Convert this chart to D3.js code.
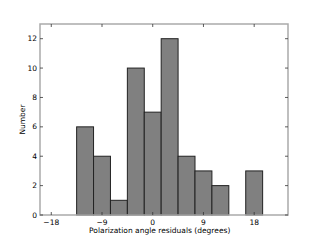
<!DOCTYPE html>
<html>
<head>
<meta charset="utf-8">
<script src="https://cdn.jsdelivr.net/npm/d3@7"></script>
<style>
  body { margin: 0; background: #fff; }
  svg { display: block; }
</style>
</head>
<body>
<script>
// histogram bins (left edge, degrees) and counts
const binStarts = [-13.5, -10.5, -7.5, -4.5, -1.5, 1.5, 4.5, 7.5, 10.5, 13.5, 16.5]
const counts = [6, 4, 1, 10, 7, 12, 4, 3, 2, 0, 3]
const binWidth = 3
const xTicks = [-18, -9, 0, 9, 18]
const yTicks = [0, 2, 4, 6, 8, 10, 12]

const width = 320, height = 240
const margin = { top: 24, right: 32, bottom: 25, left: 40 }
const innerW = width - margin.left - margin.right
const innerH = height - margin.top - margin.bottom

const svg = d3.select("body").append("svg")
    .attr("width", width)
    .attr("height", height)
    .style("font-family", "DejaVu Sans")

const g = svg.append("g")
    .attr("transform", `translate(${margin.left},${margin.top})`)

const x = d3.scaleLinear().domain([-20, 24]).range([0, innerW])
const y = d3.scaleLinear().domain([0, 13]).range([innerH, 0])

const data = binStarts.map((s, i) => ({ start: s, count: counts[i] }))

// bars
g.selectAll("rect.bar")
    .data(data.filter(d => d.count > 0))
    .enter()
    .append("rect")
    .attr("class", "bar")
    .attr("x", d => x(d.start))
    .attr("y", d => y(d.count))
    .attr("width", d => x(d.start + binWidth) - x(d.start))
    .attr("height", d => y(0) - y(d.count))
    .attr("fill", "#808080")
    .attr("stroke", "#222")
    .attr("stroke-width", 1)

// frame
g.append("rect")
    .attr("x", 0).attr("y", 0)
    .attr("width", innerW).attr("height", innerH)
    .attr("fill", "none")
    .attr("stroke", "#aaa")
    .attr("stroke-width", 1.5)

// ticks (inward, on all sides)
const tickLen = 3
xTicks.forEach(t => {
    g.append("line").attr("x1", x(t)).attr("x2", x(t))
        .attr("y1", innerH).attr("y2", innerH - tickLen)
        .attr("stroke", "#333").attr("stroke-width", 0.8)
    g.append("line").attr("x1", x(t)).attr("x2", x(t))
        .attr("y1", 0).attr("y2", tickLen)
        .attr("stroke", "#333").attr("stroke-width", 0.8)
    g.append("text")
        .attr("x", x(t)).attr("y", innerH + 10)
        .attr("text-anchor", "middle")
        .attr("font-size", 7.5)
        .attr("fill", "#000")
        .text(t < 0 ? "\u2212" + Math.abs(t) : t)
})

yTicks.forEach(t => {
    g.append("line").attr("x1", 0).attr("x2", tickLen)
        .attr("y1", y(t)).attr("y2", y(t))
        .attr("stroke", "#333").attr("stroke-width", 0.8)
    g.append("line").attr("x1", innerW).attr("x2", innerW - tickLen)
        .attr("y1", y(t)).attr("y2", y(t))
        .attr("stroke", "#333").attr("stroke-width", 0.8)
    g.append("text")
        .attr("x", -3).attr("y", y(t))
        .attr("dy", "0.35em")
        .attr("text-anchor", "end")
        .attr("font-size", 7.5)
        .attr("fill", "#000")
        .text(t)
})

// axis labels
svg.append("text")
    .attr("x", margin.left + x(0) + 7)
    .attr("y", 233)
    .attr("text-anchor", "middle")
    .attr("font-size", 7.5)
    .text("Polarization angle residuals (degrees)")

svg.append("text")
    .attr("transform", `translate(25,${margin.top + innerH / 2}) rotate(-90)`)
    .attr("text-anchor", "middle")
    .attr("font-size", 7.5)
    .text("Number")
</script>
</body>
</html>
